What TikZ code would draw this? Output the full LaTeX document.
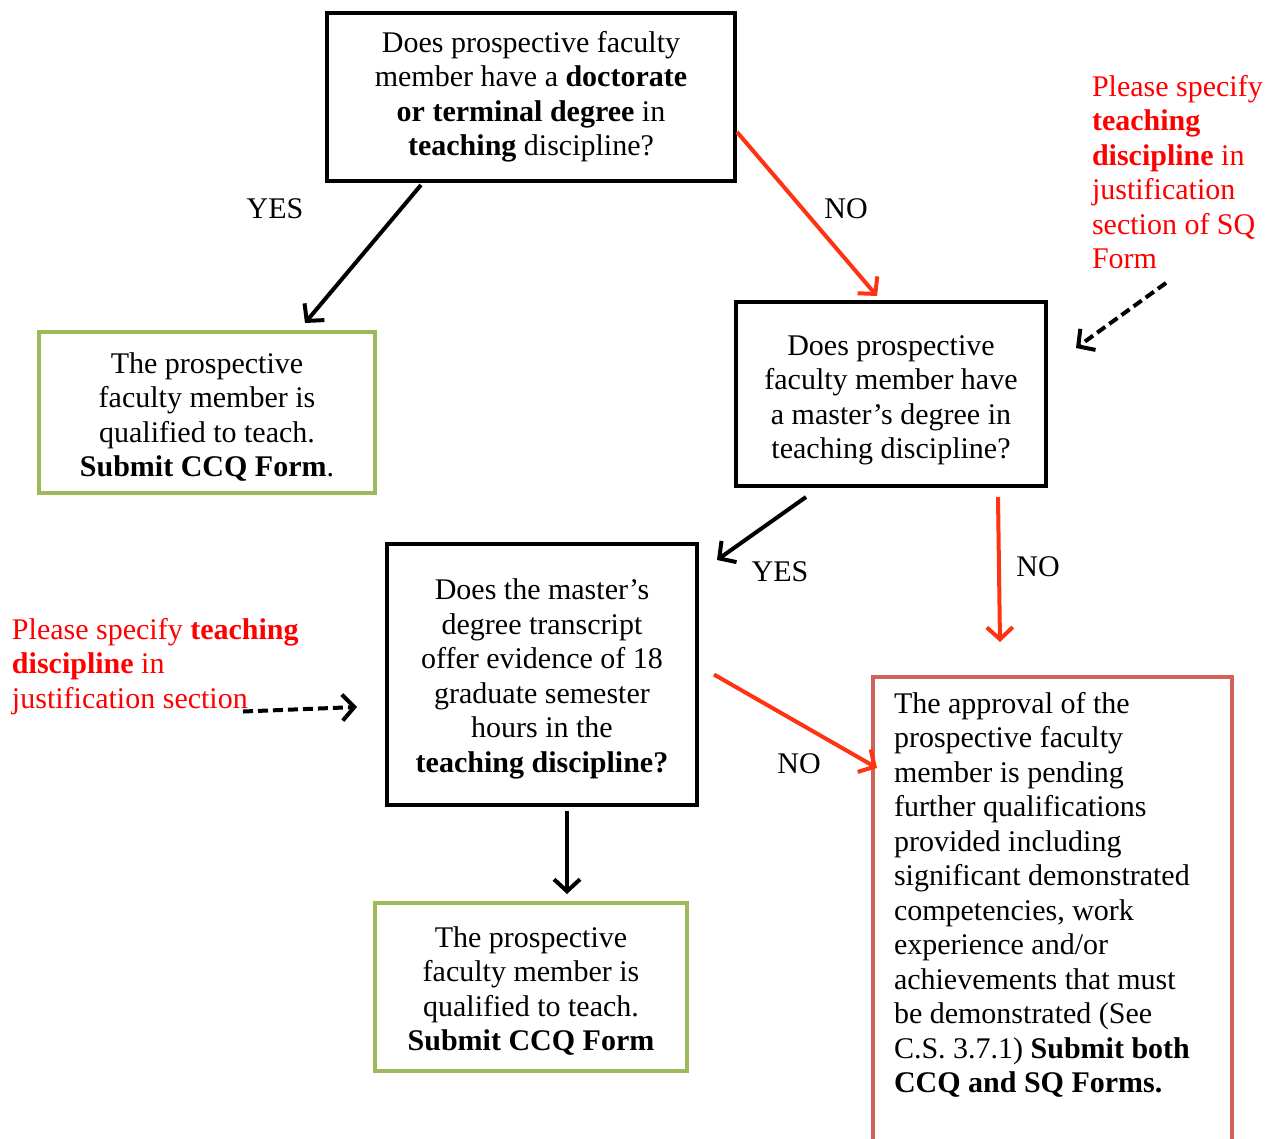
\documentclass[tikz,border=0pt]{standalone}
\usepackage{fontspec}
\setmainfont{Liberation Serif}
\usetikzlibrary{positioning, arrows.meta}

\definecolor{okgreen}{RGB}{155,187,89}
\definecolor{pendred}{RGB}{208,98,90}
\definecolor{noorange}{RGB}{255,51,17}
\definecolor{notered}{RGB}{255,0,0}

% first-line strut, pushes a box's text down a little
\newcommand{\firstline}[1]{\rule{0pt}{#1}}

\begin{document}
\begin{tikzpicture}[x=1pt, y=-1pt, >={Straight Barb[length=12pt,width=26pt]}, line width=4pt,
    font=\fontsize{30}{34.5}\selectfont,
    question/.style={draw, rectangle, align=center, inner sep=0pt},
    qualified/.style={question, draw=okgreen},
    pending/.style={draw=pendred, rectangle, inner xsep=21pt, inner ysep=15pt, anchor=north west},
    note/.style={text=notered, align=left, inner sep=0pt, anchor=north west},
    answer/.style={inner sep=0pt},
    no/.style={draw=noorange},
    hint/.style={dash pattern=on 10pt off 5pt}]
    \useasboundingbox (0,0) rectangle (1274,1139);

    \node[question, minimum width=408pt, minimum height=168pt] (Doctorate) at (531,97)
        {Does prospective faculty\\ member have a \textbf{doctorate}\\ \textbf{or terminal degree} in\\ \textbf{teaching} discipline?};
    \node[question, minimum width=310pt, minimum height=184pt] (Masters) at (891,394)
        {\firstline{32pt}Does prospective\\ faculty member have\\ a master’s degree in\\ teaching discipline?};
    \node[qualified, minimum width=336pt, minimum height=161pt] (QualifiedA) at (207,412.5)
        {\firstline{29.5pt}The prospective\\ faculty member is\\ qualified to teach.\\ \textbf{Submit CCQ Form}.};
    \node[question, minimum width=310pt, minimum height=261pt] (Hours) at (542,674.5)
        {\firstline{29.5pt}Does the master’s\\ degree transcript\\ offer evidence of 18\\ graduate semester\\ hours in the\\ \textbf{teaching discipline?}};
    \node[qualified, minimum width=312pt, minimum height=168pt] (QualifiedB) at (531,987)
        {\firstline{28.5pt}The prospective\\ faculty member is\\ qualified to teach.\\ \textbf{Submit CCQ Form}};
    \node[pending] (Pending) at (871,675) {\parbox[t][470pt][t]{317pt}{\raggedright
        The approval of the\\ prospective faculty\\ member is pending\\ further qualifications\\ provided including\\
        significant demonstrated\\ competencies, work\\ experience and/or\\ achievements that must\\
        be demonstrated (See\\ C.S. 3.7.1) \textbf{Submit both}\\ \textbf{CCQ and SQ Forms.}}};

    \node[note] (NoteSQ) at (1090,73)
        {Please specify\\ \textbf{teaching}\\ \textbf{discipline} in\\ justification\\ section of SQ\\ Form};
    \node[note] (NoteSection) at (10,616)
        {Please specify \textbf{teaching}\\ \textbf{discipline} in\\ justification section};

    \node[answer] (YesA) at (275,209) {YES};
    \node[answer] (NoA) at (846,209) {NO};
    \node[answer] (YesB) at (780,572) {YES};
    \node[answer] (NoB) at (1038,567) {NO};
    \node[answer] (NoC) at (799,764) {NO};

    \path[->]
    ([xshift=-110pt,yshift=-2pt]Doctorate.south) edge ([xshift=98pt,yshift=7pt]QualifiedA.north)
    ([yshift=-35pt]Doctorate.east) edge [no] ([xshift=-14pt,yshift=4pt]Masters.north)
    ([xshift=76pt,yshift=-12pt]NoteSQ.south west) edge [hint] ([xshift=28pt,yshift=46pt]Masters.east)
    ([xshift=-85pt,yshift=-9pt]Masters.south) edge ([xshift=18pt,yshift=-18pt]Hours.north east)
    ([xshift=107pt,yshift=-9pt]Masters.south) edge [no] ([xshift=-52.5pt,yshift=33pt]Pending.north)
    ([xshift=15pt]Hours.east) edge [no] ([xshift=6pt,yshift=-93pt]Pending.north west)
    ([xshift=233pt,yshift=5pt]NoteSection.south west) edge [hint] ([xshift=-28pt,yshift=-32.5pt]Hours.west)
    ([xshift=25pt,yshift=-4pt]Hours.south) edge ([xshift=36pt,yshift=7pt]QualifiedB.north);
\end{tikzpicture}
\end{document}
